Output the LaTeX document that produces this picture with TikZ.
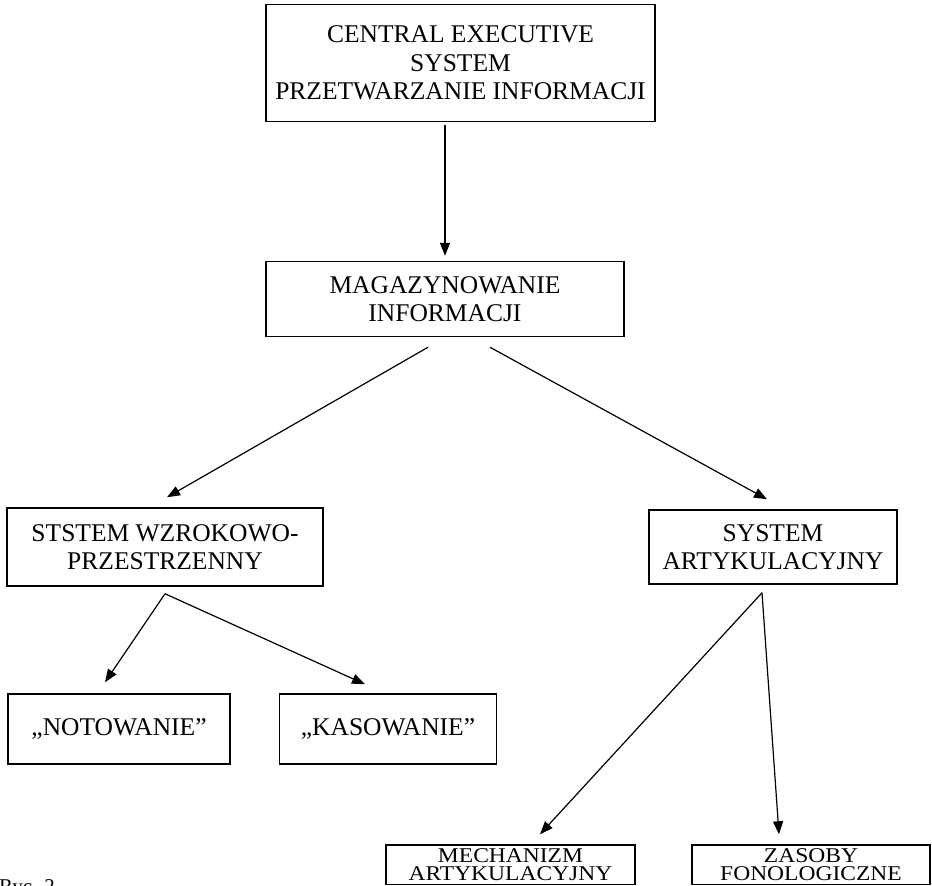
\documentclass[tikz,border=0pt]{standalone}
\usepackage{fontspec}
\setmainfont{Liberation Serif}
\newfontfamily\widerserif[FakeStretch=1.12]{Liberation Serif}
\usetikzlibrary{arrows.meta}
\tikzset{
  box/.style={draw, line width=1.5pt, inner sep=0pt, align=center,
    font=\fontsize{25.5}{28.3}\selectfont},
  lowbox/.style={box, font=\widerserif\fontsize{21}{18.5}\selectfont},
  arr/.style={line width=1.2pt, -{Triangle[length=13pt,width=10pt]}},
}
\begin{document}
\begin{tikzpicture}[x=1pt,y=-1pt]
\useasboundingbox (0,0) rectangle (932,886);
\node[box, minimum width=389pt, minimum height=117pt] (top) at (460.5,63) {CENTRAL EXECUTIVE\\SYSTEM\\PRZETWARZANIE INFORMACJI};
\node[box, minimum width=358pt, minimum height=75pt] (mag) at (445,299) {MAGAZYNOWANIE\\INFORMACJI};
\node[box, minimum width=316pt, minimum height=78pt] (wz) at (165,547) {STSTEM WZROKOWO-\\PRZESTRZENNY};
\node[box, minimum width=248pt, minimum height=74pt] (art) at (773,547) {SYSTEM\\ARTYKULACYJNY};
\node[box, minimum width=222pt, minimum height=70pt] (not) at (119,729) {„NOTOWANIE”};
\node[box, minimum width=217pt, minimum height=70pt] (kas) at (388,729) {„KASOWANIE”};
\node[lowbox, minimum width=249pt, minimum height=39.6pt] (mech) at (510.5,864.8) {MECHANIZM\\ARTYKULACYJNY};
\node[lowbox, minimum width=238pt, minimum height=39.6pt] (zas) at (811,864.8) {ZASOBY\\FONOLOGICZNE};
\node[anchor=base west, inner sep=0pt, font=\fontsize{21}{24}\selectfont] (cap) at (-1,893) {Ryc. 2};

\coordinate (magL) at ([xshift=-17pt,yshift=-10pt]mag.south);
\coordinate (magR) at ([xshift=45pt,yshift=-10pt]mag.south);
\coordinate (wzapex) at ([yshift=-7pt]wz.south);
\coordinate (artapex) at ([xshift=-11pt,yshift=-8pt]art.south);

\draw[arr] ([xshift=-15.5pt,yshift=-3pt]top.south) -- ([xshift=0pt,yshift=5pt]mag.north);
\draw[arr] (magL) -- ([xshift=2pt,yshift=10pt]wz.north);
\draw[arr] (magR) -- ([xshift=-6pt,yshift=10pt]art.north);
\draw[arr] (wzapex) -- ([xshift=-14pt,yshift=11pt]not.north);
\draw[arr] (wzapex) -- ([xshift=-23pt,yshift=9pt]kas.north);
\draw[arr] (artapex) -- ([xshift=29.5pt,yshift=10pt]mech.north);
\draw[arr] (artapex) -- ([xshift=-32pt,yshift=10pt]zas.north);
\end{tikzpicture}
\end{document}
